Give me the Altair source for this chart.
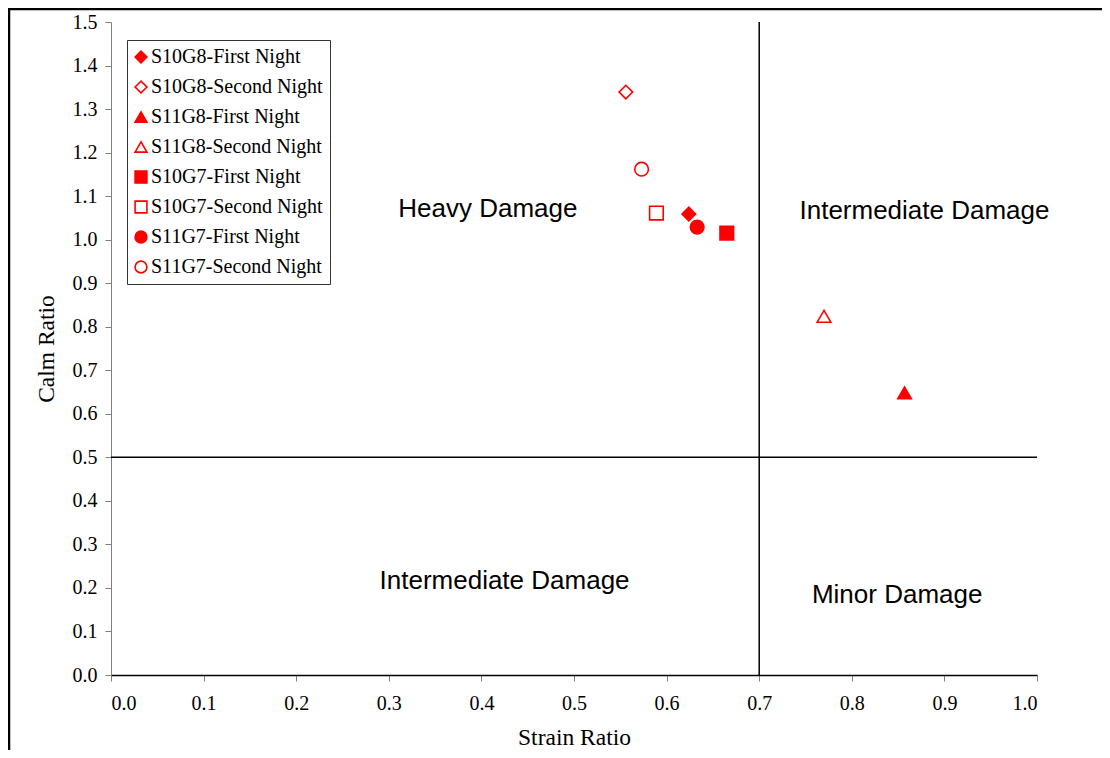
import altair as alt
import pandas as pd

# ---- data ----
series = ["S10G8-First Night", "S10G8-Second Night", "S11G8-First Night", "S11G8-Second Night",
          "S10G7-First Night", "S10G7-Second Night", "S11G7-First Night", "S11G7-Second Night"]
strain_ratio = [0.624, 0.556, 0.857, 0.770, 0.665, 0.589, 0.633, 0.573]
calm_ratio = [1.059, 1.339, 0.648, 0.824, 1.015, 1.061, 1.029, 1.162]
shapes = ["diamond", "diamond", "triangle-up", "triangle-up", "square", "square", "circle", "circle"]
fills = ["red", "white", "red", "white", "red", "white", "red", "white"]
strokes = ["red"] * 8

zone_text = ["Heavy Damage", "Intermediate Damage", "Intermediate Damage", "Minor Damage"]
zone_x = [0.407, 0.8785, 0.425, 0.849]
zone_y = [1.052, 1.047, 0.197, 0.166]

x_ticks = [round(i * 0.1, 1) for i in range(11)]
y_ticks = [round(i * 0.1, 1) for i in range(16)]

strain_limit = 0.7
calm_limit = 0.5

pts = pd.DataFrame({"Strain Ratio": strain_ratio, "Calm Ratio": calm_ratio, "series": series})
zones = pd.DataFrame({"t": zone_text, "x": zone_x, "y": zone_y})
vline = pd.DataFrame({"x": [strain_limit], "y": [0.0], "y2": [1.5]})
hline = pd.DataFrame({"x": [0.0], "x2": [1.0], "y": [calm_limit]})
one = pd.DataFrame({"a": [0]})

SERIF = "Liberation Serif"
SANS = "Liberation Sans"

xscale = alt.Scale(domain=[0, 1], nice=False, zero=False)
yscale = alt.Scale(domain=[0, 1.5], nice=False, zero=False)

xaxis = alt.Axis(values=x_ticks, format=".1f", title="Strain Ratio", grid=False,
                 domainColor="black", domainWidth=1.5, tickColor="#808080", tickSize=6,
                 labelFont=SERIF, labelFontSize=20, labelColor="black", labelPadding=12,
                 titleFont=SERIF, titleFontSize=23.5, titleFontWeight="normal", titleColor="black",
                 titlePadding=12)
yaxis = alt.Axis(values=y_ticks, format=".1f", title="Calm Ratio", grid=False,
                 domainColor="#808080", tickColor="#808080", tickSize=6,
                 labelFont=SERIF, labelFontSize=20, labelColor="black", labelPadding=8,
                 titleFont=SERIF, titleFontSize=23.5, titleFontWeight="normal", titleColor="black",
                 titlePadding=14)

legend = alt.Legend(title=None, orient="none", legendX=16, legendY=18,
                    strokeColor="#333", fillColor="white", padding=7,
                    labelFont=SERIF, labelFontSize=20, labelColor="black",
                    symbolSize=140, symbolStrokeWidth=1.6, symbolOffset=-3,
                    rowPadding=10, labelOffset=0, labelLimit=400)

points = alt.Chart(pts).mark_point(filled=False, size=185, strokeWidth=1.6, opacity=1).encode(
    x=alt.X("Strain Ratio:Q", scale=xscale, axis=xaxis),
    y=alt.Y("Calm Ratio:Q", scale=yscale, axis=yaxis),
    shape=alt.Shape("series:N", scale=alt.Scale(domain=series, range=shapes), legend=legend),
    fill=alt.Fill("series:N", scale=alt.Scale(domain=series, range=fills), legend=legend),
    stroke=alt.Stroke("series:N", scale=alt.Scale(domain=series, range=strokes), legend=legend),
)

vrule = alt.Chart(vline).mark_rule(color="black", strokeWidth=1.5).encode(
    x=alt.X("x:Q", scale=xscale), y=alt.Y("y:Q", scale=yscale), y2="y2:Q")
hrule = alt.Chart(hline).mark_rule(color="black", strokeWidth=1.5).encode(
    x=alt.X("x:Q", scale=xscale), x2="x2:Q", y=alt.Y("y:Q", scale=yscale))

labels = alt.Chart(zones).mark_text(font=SANS, fontSize=26, color="black", align="center",
                                    baseline="alphabetic").encode(
    x=alt.X("x:Q", scale=xscale), y=alt.Y("y:Q", scale=yscale), text="t:N")

# outer chart frame (top and left edges visible in the reference)
frame_top = alt.Chart(one).mark_rule(color="black", strokeWidth=2.5).encode(
    x=alt.value(-103), x2=alt.value(991), y=alt.value(-13))
frame_left = alt.Chart(one).mark_rule(color="black", strokeWidth=2.5).encode(
    x=alt.value(-102), y=alt.value(-14), y2=alt.value(740))

chart = alt.layer(vrule, hrule, labels, points, frame_top, frame_left).properties(
    width=926, height=653,
    autosize=alt.AutoSizeParams(type="none"),
    padding={"left": 103, "top": 14, "right": 65, "bottom": 75},
).configure_view(strokeWidth=0)

chart.save("out.html", embed_options={"renderer": "svg", "actions": False})
